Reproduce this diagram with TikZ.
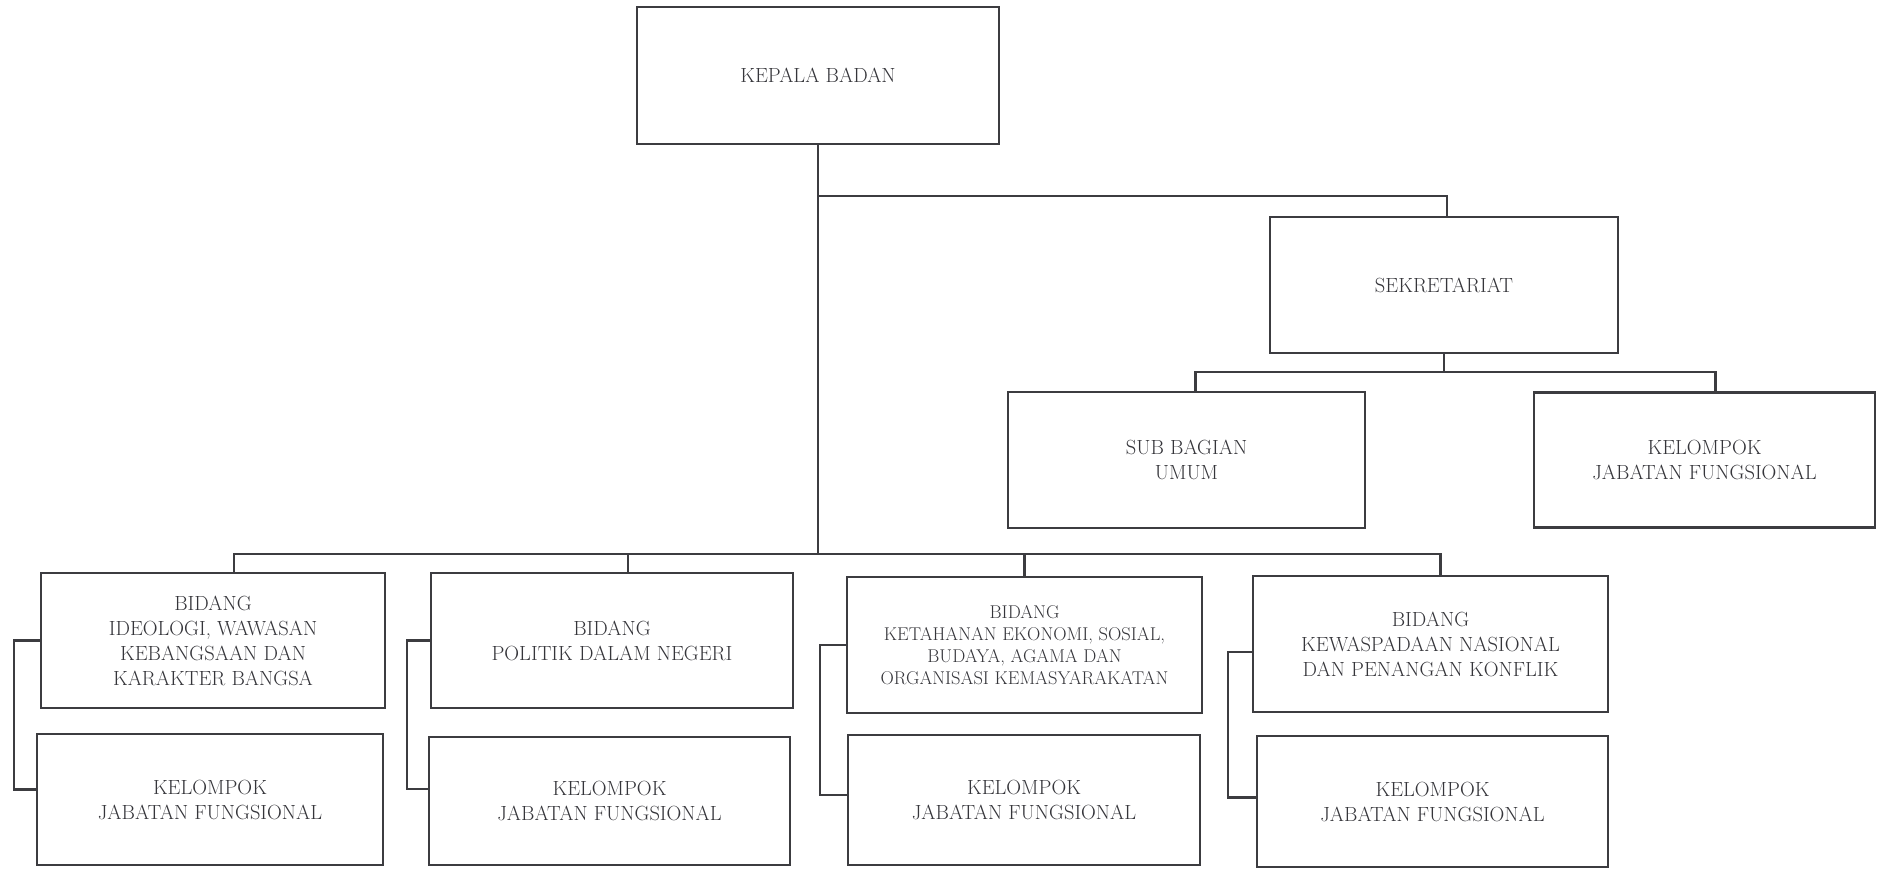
\documentclass[tikz,border=0pt]{standalone}
\usepackage{tikz}

\definecolor{garis}{HTML}{3C3C40}
\definecolor{tulisan}{HTML}{35353A}
\tikzset{
  kotak/.style={draw=garis, line width=2.6pt, align=center, inner sep=0pt,
    text=tulisan, font=\fontsize{20.5}{25}\selectfont},
  hub/.style={draw=garis, line width=2.2pt},
}

\begin{document}
\begin{tikzpicture}[x=1pt, y=-1pt, line cap=butt, line join=miter]

  %% ════ 上层方框 ════
  \node[kotak, minimum width=362pt, minimum height=137pt] (kepala) at (818,75.5) {KEPALA BADAN};
  \node[kotak, minimum width=348pt, minimum height=136pt] (sek) at (1444,285) {SEKRETARIAT};
  \node[kotak, minimum width=357pt, minimum height=136pt] (subbag) at (1186.5,460) {SUB BAGIAN\\UMUM};
  \node[kotak, minimum width=341pt, minimum height=135pt] (jfsek) at (1704.5,460) {KELOMPOK\\JABATAN FUNGSIONAL};

  %% ════ 四个“BIDANG” ════
  \node[kotak, minimum width=344pt, minimum height=135pt] (bid1) at (213,640.5) {BIDANG\\IDEOLOGI, WAWASAN\\KEBANGSAAN DAN\\KARAKTER BANGSA};
  \node[kotak, minimum width=362pt, minimum height=135pt] (bid2) at (612,640.5) {BIDANG\\POLITIK DALAM NEGERI};
  \node[kotak, minimum width=355pt, minimum height=136pt, font=\fontsize{18.5}{22}\selectfont] (bid3) at (1024.5,645) {BIDANG\\KETAHANAN EKONOMI, SOSIAL,\\BUDAYA, AGAMA DAN\\ORGANISASI KEMASYARAKATAN};
  \node[kotak, minimum width=355pt, minimum height=136pt] (bid4) at (1430.5,644) {BIDANG\\KEWASPADAAN NASIONAL\\DAN PENANGAN KONFLIK};

  %% ════ 下层“KELOMPOK” ════
  \node[kotak, minimum width=346pt, minimum height=131pt] (jf1) at (210,799.5) {KELOMPOK\\JABATAN FUNGSIONAL};
  \node[kotak, minimum width=361pt, minimum height=128pt] (jf2) at (609.5,801) {KELOMPOK\\JABATAN FUNGSIONAL};
  \node[kotak, minimum width=352pt, minimum height=130pt] (jf3) at (1024,800) {KELOMPOK\\JABATAN FUNGSIONAL};
  \node[kotak, minimum width=351pt, minimum height=131pt] (jf4) at (1432.5,801.5) {KELOMPOK\\JABATAN FUNGSIONAL};

  %% ════ 连接线 ════
  % 主干：KEPALA 往下到底部总线
  \draw[hub] (kepala.south) -- (kepala.south |- 0,555);
  \draw[hub] (kepala.south |- 0,196) -| ([xshift=3pt]sek.north);
  % 秘书处下面两个
  \draw[hub] (sek.south) -- (sek.south |- 0,373);
  \draw[hub] ([xshift=9pt]subbag.north) -- ++(0,-19) -| ([xshift=11pt]jfsek.north);
  % 底部总线
  \draw[hub] ([xshift=21pt]bid1.north) -- ++(0,-18) -| ([xshift=10pt]bid4.north);
  \draw[hub] ([xshift=16pt]bid2.north) -- ++(0,-18);
  \draw[hub] (bid3.north) -- ++(0,-22);
  % 左侧括号线
  \draw[hub] (bid1.west) -- ++(-26,0) |- ([yshift=10pt]jf1.west);
  \draw[hub] (bid2.west) -- ++(-23,0) |- ([yshift=12pt]jf2.west);
  \draw[hub] (bid3.west) -- ++(-26,0) |- ([yshift=5pt]jf3.west);
  \draw[hub] ([yshift=-8pt]bid4.west) -- ++(-24,0) |- ([yshift=4pt]jf4.west);

  % 钉死画布
  \pgfresetboundingbox
  \path[use as bounding box] (0,0) rectangle (1877,868);
\end{tikzpicture}
\end{document}
